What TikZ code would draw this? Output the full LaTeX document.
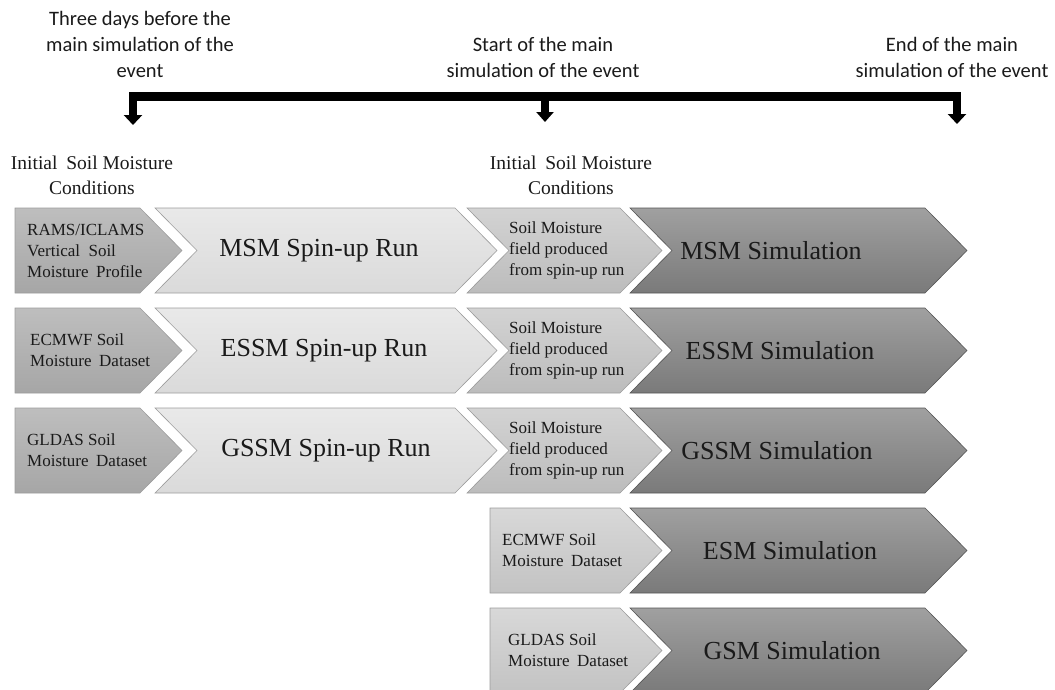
\documentclass[tikz,border=0pt]{standalone}
\usepackage{fontspec}
\setmainfont{Liberation Serif}
\newfontfamily\calfont{Carlito}
\usetikzlibrary{arrows.meta}
\definecolor{aTop}{HTML}{BEBEBE}\definecolor{aBot}{HTML}{A6A6A6}
\definecolor{bTop}{HTML}{E9E9E9}\definecolor{bBot}{HTML}{DADADA}
\definecolor{cTop}{HTML}{D3D3D3}\definecolor{cBot}{HTML}{BCBCBC}
\definecolor{eTop}{HTML}{D8D8D8}\definecolor{eBot}{HTML}{C3C3C3}
\definecolor{dTop}{HTML}{A0A0A0}\definecolor{dBot}{HTML}{7A7A7A}
\definecolor{lineLight}{HTML}{9C9C9C}\definecolor{lineDark}{HTML}{555555}
\definecolor{inkc}{HTML}{1A1A1A}
% pentagon: x0, x1 (end of straight part), ytop, style
\newcommand{\mypenta}[4]{\path[#4] (#1,#3) -- (#2,#3) -- (#2+42,#3+42.5) -- (#2,#3+85) -- (#1,#3+85) -- cycle;}
% chevron: x0, x1, ytop, style
\newcommand{\mychev}[4]{\path[#4] (#1,#3) -- (#2,#3) -- (#2+42,#3+42.5) -- (#2,#3+85) -- (#1,#3+85) -- (#1+42,#3+42.5) -- cycle;}
\begin{document}
\begin{tikzpicture}[x=1pt,y=-1pt,
  apiece/.style={draw=lineLight,line width=0.6pt,top color=aTop,bottom color=aBot},
  bpiece/.style={draw=lineLight,line width=0.6pt,top color=bTop,bottom color=bBot},
  cpiece/.style={draw=lineLight,line width=0.6pt,top color=cTop,bottom color=cBot},
  epiece/.style={draw=lineLight,line width=0.6pt,top color=eTop,bottom color=eBot},
  dpiece/.style={draw=lineDark,line width=0.6pt,top color=dTop,bottom color=dBot},
  small/.style={anchor=west,align=left,inner sep=0pt,text=inkc,font=\fontsize{17}{21}\selectfont},
  big/.style={anchor=center,inner sep=0pt,text=inkc,font=\fontsize{26}{30}\selectfont},
  header/.style={align=center,inner sep=0pt,text=inkc,font=\fontsize{19.5}{25}\selectfont},
  toplabel/.style={align=center,inner sep=0pt,text=inkc,font=\calfont\fontsize{20.5}{26}\selectfont},
  barline/.style={line width=8.5pt,line join=miter,draw=black}
]
\useasboundingbox (0,0) rectangle (1055,689);
\clip (0,0) rectangle (1055,689);

% timeline labels
\node[toplabel] (l1) at (140,44) {Three days before the\\main simulation of the\\event};
\node[toplabel] (l2) at (543,57.5) {Start of the main\\simulation of the event};
\node[toplabel] (l3) at (952,57.5) {End of the main\\simulation of the event};

% timeline bar
\coordinate (t1) at (133,96.5);
\coordinate (t2) at (545,96.5);
\coordinate (t3) at (957,96.5);
\coordinate (e1) at (133,125);
\coordinate (e2) at (545,122);
\coordinate (e3) at (957,124);
\draw[barline,{Triangle[width=18pt,length=10pt]}-{Triangle[width=18pt,length=10pt]}] (e1) -- (t1) -- (t3) -- (e3);
\draw[barline,-{Triangle[width=17pt,length=10pt]}] (t2) -- (e2);

% headers
\node[header] (h1) at (92,175.5) {Initial\hspace{0.2em} Soil Moisture\\Conditions};
\node[header] (h2) at (571,175.5) {Initial\hspace{0.2em} Soil Moisture\\Conditions};

% row 1
\mypenta{15}{140}{208}{apiece}
\mychev{155}{455}{208}{bpiece}
\mychev{467}{620}{208}{cpiece}
\mychev{630}{925}{208}{dpiece}
% row 2
\mypenta{15}{140}{308}{apiece}
\mychev{155}{455}{308}{bpiece}
\mychev{467}{620}{308}{cpiece}
\mychev{630}{925}{308}{dpiece}
% row 3
\mypenta{15}{140}{408}{apiece}
\mychev{155}{455}{408}{bpiece}
\mychev{467}{620}{408}{cpiece}
\mychev{630}{925}{408}{dpiece}
% row 4
\mypenta{490}{620}{508}{epiece}
\mychev{630}{925}{508}{dpiece}
% row 5
\mypenta{490}{620}{608}{epiece}
\mychev{630}{925}{608}{dpiece}

% texts row 1
\node[small] (a1) at (27,250.5) {RAMS/ICLAMS\\Vertical\hspace{0.25em} Soil\\Moisture\hspace{0.2em} Profile};
\node[big] (b1) at (319,250.5) {MSM Spin-up Run};
\node[small] (c1) at (509,250.5) {Soil Moisture\\field produced\\from spin-up run};
\node[big] (d1) at (771,250.5) {MSM Simulation};
% row 2
\node[small] (a2) at (30,350.5) {ECMWF Soil\\Moisture\hspace{0.2em} Dataset};
\node[big] (b2) at (324,350.5) {ESSM Spin-up Run};
\node[small] (c2) at (509,350.5) {Soil Moisture\\field produced\\from spin-up run};
\node[big] (d2) at (780,350.5) {ESSM Simulation};
% row 3
\node[small] (a3) at (27,450.5) {GLDAS Soil\\Moisture\hspace{0.2em} Dataset};
\node[big] (b3) at (326,450.5) {GSSM Spin-up Run};
\node[small] (c3) at (509,450.5) {Soil Moisture\\field produced\\from spin-up run};
\node[big] (d3) at (777,450.5) {GSSM Simulation};
% row 4
\node[small] (e4) at (502,550.5) {ECMWF Soil\\Moisture\hspace{0.2em} Dataset};
\node[big] (d4) at (790,550.5) {ESM Simulation};
% row 5
\node[small] (e5) at (508,650.5) {GLDAS Soil\\Moisture\hspace{0.2em} Dataset};
\node[big] (d5) at (792,650.5) {GSM Simulation};
\end{tikzpicture}
\end{document}
